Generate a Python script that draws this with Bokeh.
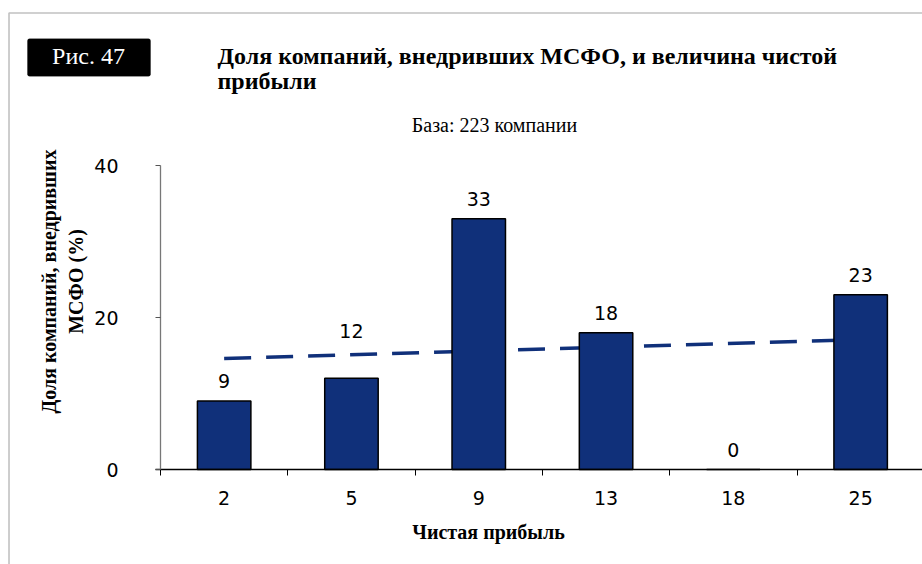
import math
from bokeh.plotting import figure
from bokeh.models import FixedTicker, Label, BoxAnnotation, Range1d, ColumnDataSource
from bokeh.embed import file_html
from bokeh.resources import INLINE
from bokeh.core.properties import value

# ---- data ----
categories = ["2", "5", "9", "13", "18", "25"]          # Чистая прибыль
shares = [9, 12, 33, 18, 0, 23]                          # Доля компаний, внедривших МСФО, %
trend_start_end = [14.6, 17.1]                           # linear trend, read at first / last category
y_ticks = [0, 20, 40]

NAVY = "#10307a"
SERIF = "Liberation Serif"
SANS = "DejaVu Sans"

W, H = 922, 564
# layout of the plotting area inside the canvas (pixels)
PX_LEFT, PX_BOTTOM, PX_TOP = 160, 469, 165
CAT_W = 127.3
Y_MAX = 40
PX_PER_Y = (PX_BOTTOM - PX_TOP) / Y_MAX

x_start = 0.5 - PX_LEFT / CAT_W
x_end = x_start + W / CAT_W
y_start = -(H - PX_BOTTOM) / PX_PER_Y
y_end = Y_MAX + PX_TOP / PX_PER_Y


def sy(py):  # page y (from top) -> screen units (from bottom of frame = canvas)
    return H - py


xs = list(range(1, len(categories) + 1))

p = figure(width=W, height=H, output_backend="svg", toolbar_location=None,
           x_range=Range1d(x_start, x_end), y_range=Range1d(y_start, y_end),
           min_border=0, min_border_left=0, min_border_right=0, min_border_top=0, min_border_bottom=0)
p.grid.visible = False
p.outline_line_color = None
p.background_fill_color = "white"
p.border_fill_color = "white"

# trend line
p.line([xs[0], xs[-1]], trend_start_end, line_color=NAVY, line_width=3.5, line_dash="27 15")

# value labels: pixel lift above the bar (the second one is moved up clear of the trend line)
label_lift = [13, 40, 13, 13, 13, 13]
src = ColumnDataSource(dict(x=xs, top=shares, lab=[str(v) for v in shares],
                            off=[-v for v in label_lift]))
p.vbar(x="x", top="top", width=0.42, source=src, fill_color=NAVY, line_color="black", line_width=1.5)
p.text(x="x", y="top", text="lab", source=src, y_offset="off", text_align="center",
       text_baseline="bottom", text_font=value(SANS), text_font_size="19px", text_color="black")

# x axis (drawn at y = 0 inside the canvas)
xa = p.xaxis[0]
xa.fixed_location = 0
xa.bounds = (0.46, x_end)
xa.ticker = FixedTicker(ticks=xs, minor_ticks=[x - 0.5 for x in xs] + [xs[-1] + 0.5])
xa.major_label_overrides = {x: c for x, c in zip(xs, categories)}
xa.major_tick_out = 0
xa.major_tick_in = 0
xa.minor_tick_out = 6
xa.minor_tick_in = 0
xa.minor_tick_line_color = "black"
xa.axis_line_color = "black"
xa.axis_line_width = 1.3
xa.major_label_standoff = 15
xa.major_label_text_font = SANS
xa.major_label_text_font_size = "19px"
xa.major_label_text_color = "black"

# y axis (drawn at the first category boundary)
ya = p.yaxis[0]
ya.fixed_location = 0.5
ya.bounds = (0, Y_MAX)
ya.ticker = FixedTicker(ticks=y_ticks)
ya.major_tick_out = 5
ya.major_tick_in = 0
ya.minor_tick_line_color = None
ya.axis_line_color = "#777777"
ya.axis_line_width = 1.3
ya.major_tick_line_color = "#555555"
ya.major_label_standoff = 37
ya.major_label_text_font = SANS
ya.major_label_text_font_size = "19px"
ya.major_label_text_color = "black"

# outer frame (top and left lines)
p.add_layout(BoxAnnotation(left=8.5, right=3000, top=sy(12.5), bottom=-3000,
                           left_units="screen", right_units="screen", top_units="screen", bottom_units="screen",
                           fill_color=None, fill_alpha=0, line_color="#333333", line_width=1.6))

# "Рис. 47" black box
p.add_layout(BoxAnnotation(left=27, right=150, top=sy(38.3), bottom=sy(75.7), border_radius=2,
                           left_units="screen", right_units="screen", top_units="screen", bottom_units="screen",
                           fill_color="black", fill_alpha=1, line_color="black"))
p.add_layout(Label(x=88, y=sy(55), x_units="screen", y_units="screen", text="Рис. 47",
                   text_font=SERIF, text_font_size="24px", text_color="white",
                   text_align="center", text_baseline="alphabetic"))

# title
for txt, base in [("Доля компаний, внедривших МСФО, и величина чистой", 55.5), ("прибыли", 80.5)]:
    p.add_layout(Label(x=217, y=sy(base), x_units="screen", y_units="screen", text=txt,
                       text_font=SERIF, text_font_size="24px", text_font_style="bold", text_color="black",
                       text_align="left", text_baseline="alphabetic"))

# subtitle
p.add_layout(Label(x=494, y=sy(124), x_units="screen", y_units="screen",
                   text="База: 223 компании",
                   text_font=SERIF, text_font_size="20px", text_color="black",
                   text_align="center", text_baseline="alphabetic"))

# y-axis title (two rotated lines)
for txt, px in [("Доля компаний, внедривших", 48), ("МСФО (%)", 75)]:
    p.add_layout(Label(x=px, y=sy(281), x_units="screen", y_units="screen", text=txt,
                       angle=math.pi / 2, text_font=SERIF, text_font_size="20px", text_font_style="bold",
                       text_color="black", text_align="center", text_baseline="middle"))

# x-axis title
p.add_layout(Label(x=488, y=sy(531), x_units="screen", y_units="screen", text="Чистая прибыль",
                   text_font=SERIF, text_font_size="20px", text_font_style="bold", text_color="black",
                   text_align="center", text_baseline="alphabetic"))

open("out.html", "w").write(file_html(p, INLINE))
